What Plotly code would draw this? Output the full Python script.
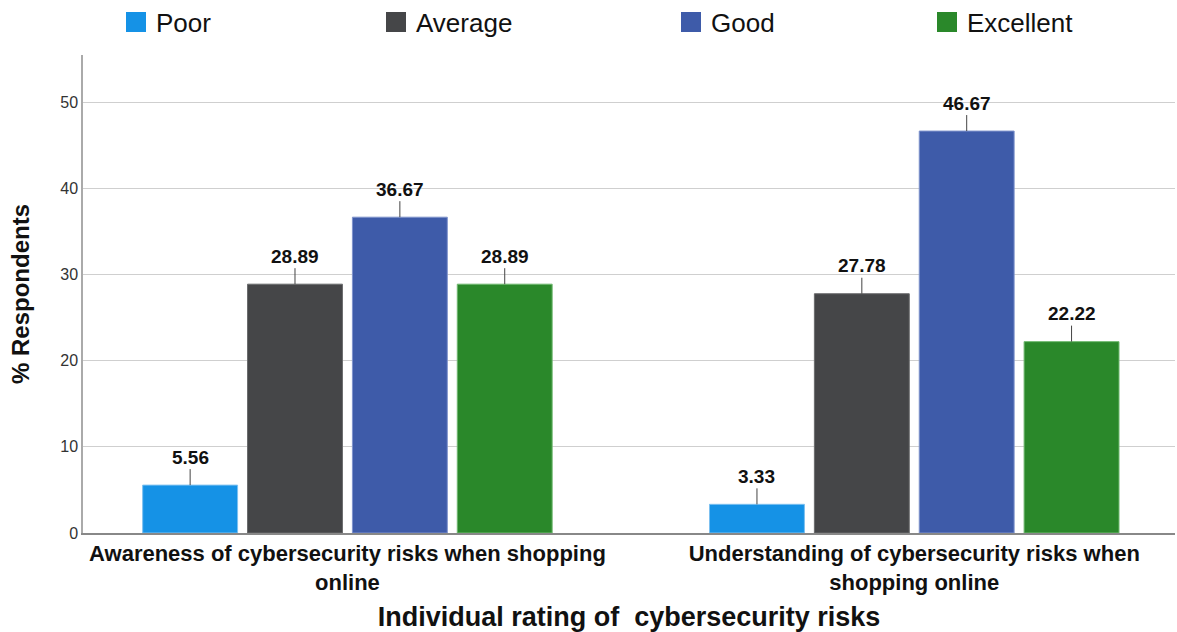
import plotly.graph_objects as go

categories = ["Awareness of cybersecurity risks when shopping<br>online",
              "Understanding of cybersecurity risks when<br>shopping online"]
series_names = ["Poor", "Average", "Good", "Excellent"]
poor = [5.56, 3.33]
average = [28.89, 27.78]
good = [36.67, 46.67]
excellent = [28.89, 22.22]
values = [poor, average, good, excellent]
colors = ["#1592e6", "#454648", "#3e5ba9", "#2a882a"]
edge_colors = ["#7cc0f0", "#6a6b6d", "#7f93cc", "#6fb86f"]
legend_ids = ["legend", "legend2", "legend3", "legend4"]
legend_left_px = [116, 376, 671, 927]

FONT = "Liberation Sans, Arial, sans-serif"
bargap = 0.26
bargroupgap = 0.095
W, H = 1177, 632
ML, MR, MT, MB = 83, 2, 55, 99

fig = go.Figure()
for name, vals, c, ec in zip(series_names, values, colors, edge_colors):
    fig.add_trace(go.Bar(name=name, x=categories, y=vals, showlegend=False,
                         marker=dict(color=c, line=dict(color=ec, width=1))))
# legend entries (square swatches)
for name, c, lid in zip(series_names, colors, legend_ids):
    fig.add_trace(go.Scatter(name=name, x=[None], y=[None], mode="markers",
                             legend=lid, showlegend=True,
                             marker=dict(symbol="square", size=16, color=c,
                                         line=dict(color=c, width=4))))

pitch = (1 - bargap) / len(series_names)
for i, vals in enumerate(values):
    off = (i - (len(series_names) - 1) / 2) * pitch
    for j, v in enumerate(vals):
        fig.add_annotation(x=j + off, y=v, xref="x", yref="y",
                           text=f"<b>{v:.2f}</b>", showarrow=True,
                           arrowhead=0, arrowwidth=1, arrowcolor="#444",
                           ax=0, ay=-28, standoff=0,
                           font=dict(family=FONT, size=19, color="#111"))

plot_w = W - ML - MR
plot_h = H - MT - MB
legend_layouts = {}
for lid, px in zip(legend_ids, legend_left_px):
    legend_layouts[lid] = dict(orientation="h", x=(px - ML) / plot_w, xanchor="left",
                               y=(H - MB - 22) / plot_h, yanchor="middle",
                               font=dict(size=26, family=FONT, color="#111"),
                               bgcolor="rgba(0,0,0,0)", itemclick=False)

fig.update_layout(
    width=W, height=H,
    margin=dict(l=ML, r=MR, t=MT, b=MB, autoexpand=False),
    paper_bgcolor="white", plot_bgcolor="white",
    barmode="group", bargap=bargap, bargroupgap=bargroupgap,
    font=dict(family=FONT, color="#111"),
    showlegend=True,
    xaxis=dict(type="category", range=[-0.4665, 1.46],
               showline=True, linecolor="#888", linewidth=1.5,
               ticks="", tickfont=dict(size=22, family=FONT, color="#111"),
               tickprefix="<b>", ticksuffix="</b>",
               title=dict(text="<b>Individual rating of  cybersecurity risks</b>",
                          font=dict(size=27, family=FONT, color="#111"), standoff=14)),
    yaxis=dict(range=[0, 55.5], tickvals=[0, 10, 20, 30, 40, 50],
               showgrid=True, gridcolor="#cfcfcf", gridwidth=1,
               showline=True, linecolor="#aaa", linewidth=1.5,
               ticks="", zeroline=False,
               tickfont=dict(size=16, family=FONT, color="#333"),
               title=dict(text="<b>% Respondents</b>",
                          font=dict(size=24, family=FONT, color="#111"), standoff=24)),
    **legend_layouts,
)

fig.write_html("out.html")
